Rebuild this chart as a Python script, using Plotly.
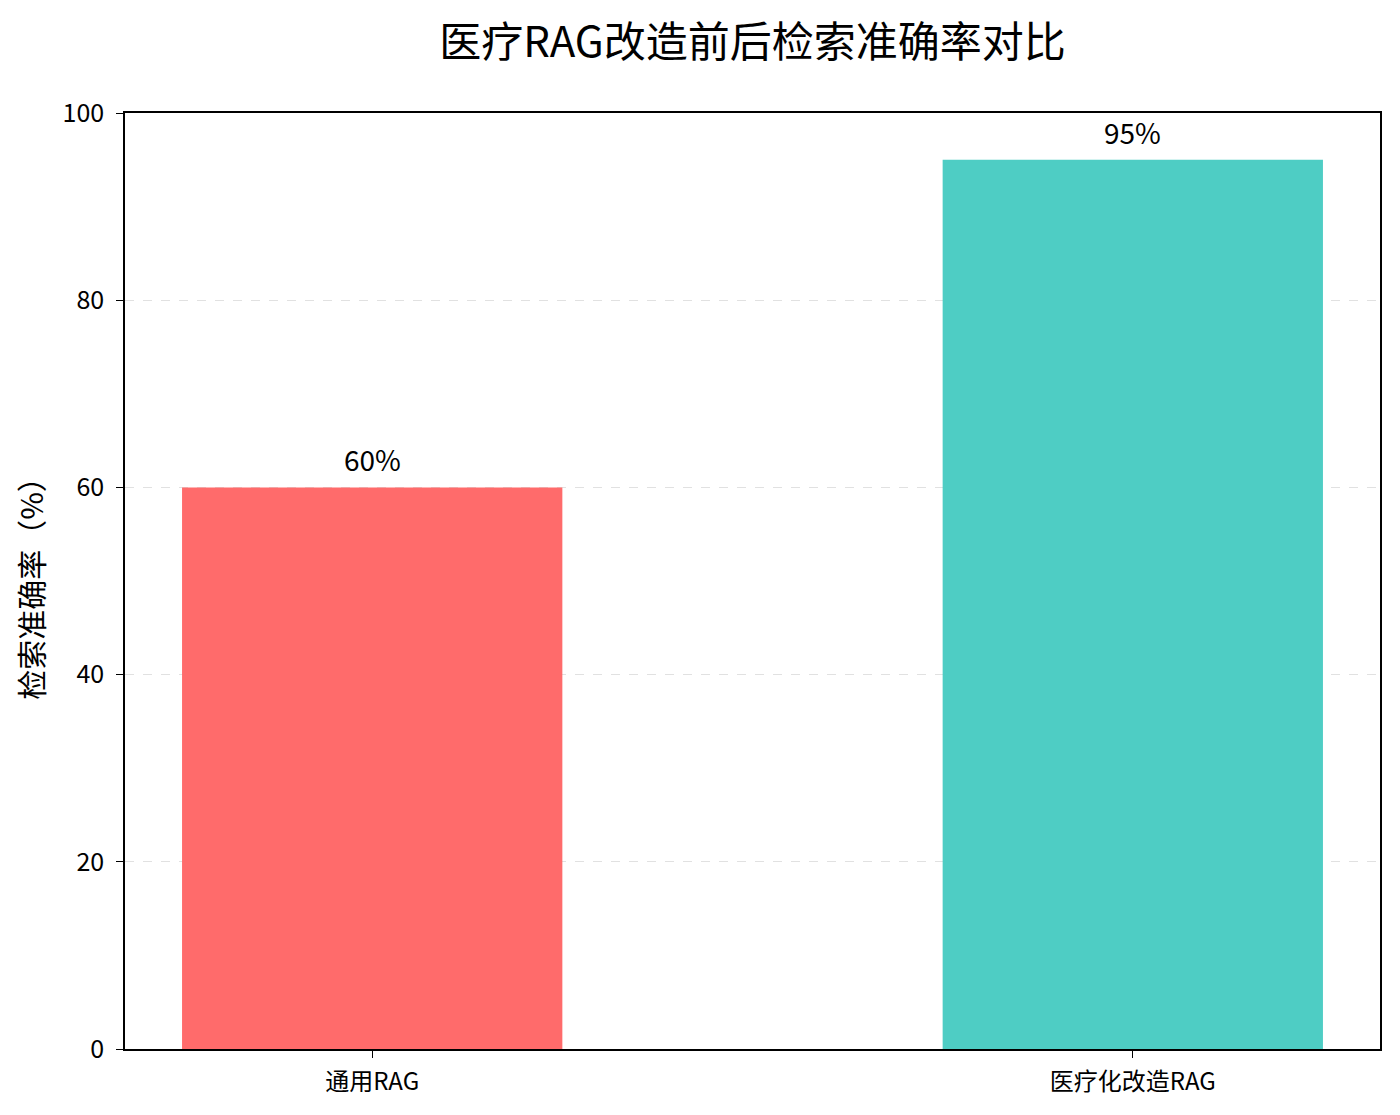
import plotly.graph_objects as go

categories = ['通用RAG', '医疗化改造RAG']
accuracy = [60, 95]
colors = ['#FF6B6B', '#4ECDC4']
yticks = [0, 20, 40, 60, 80, 100]

font = 'Noto Sans CJK SC, SimHei, sans-serif'

fig = go.Figure()
fig.add_trace(go.Bar(
    x=[0, 1], y=accuracy, width=0.5,
    marker=dict(color=colors, line=dict(width=0)),
    hoverinfo='skip', showlegend=False,
))

# value labels above the bars
for i, v in enumerate(accuracy):
    fig.add_annotation(x=i, y=v, text=f'{v}%', showarrow=False,
                       yanchor='bottom', yshift=6,
                       font=dict(family=font, size=28, color='black'))

# the page puts the figure 8px in from the top-left, margins compensate for that
fig.update_layout(
    width=1400, height=1115,
    paper_bgcolor='white', plot_bgcolor='white',
    margin=dict(l=117, r=28, t=105, b=74),
    title=dict(text='医疗RAG改造前后检索准确率对比', xref='paper', x=0.5, xanchor='center',
               y=0.9695, yanchor='middle',
               font=dict(family=font, size=42, color='black')),
    font=dict(family=font, color='black'),
)
fig.update_xaxes(
    range=[-0.325, 1.325], tickvals=[0, 1], ticktext=categories,
    showline=True, linecolor='black', linewidth=1.5, mirror=True,
    ticks='outside', ticklen=7, tickcolor='black', ticklabelstandoff=3,
    showgrid=False, zeroline=False,
    tickfont=dict(family=font, size=24, color='black'),
)
fig.update_yaxes(
    range=[0, 100], tickvals=yticks,
    showline=True, linecolor='black', linewidth=1.5, mirror=True,
    ticks='outside', ticklen=7, tickcolor='black', ticklabelstandoff=7,
    showgrid=True, gridcolor='rgba(200,200,200,0.55)', griddash='dash', gridwidth=1,
    zeroline=False,
    tickfont=dict(family=font, size=25, color='black'),
    title=dict(text='检索准确率（%）', standoff=10,
               font=dict(family=font, size=30, color='black')),
)

fig.write_html("out.html")
